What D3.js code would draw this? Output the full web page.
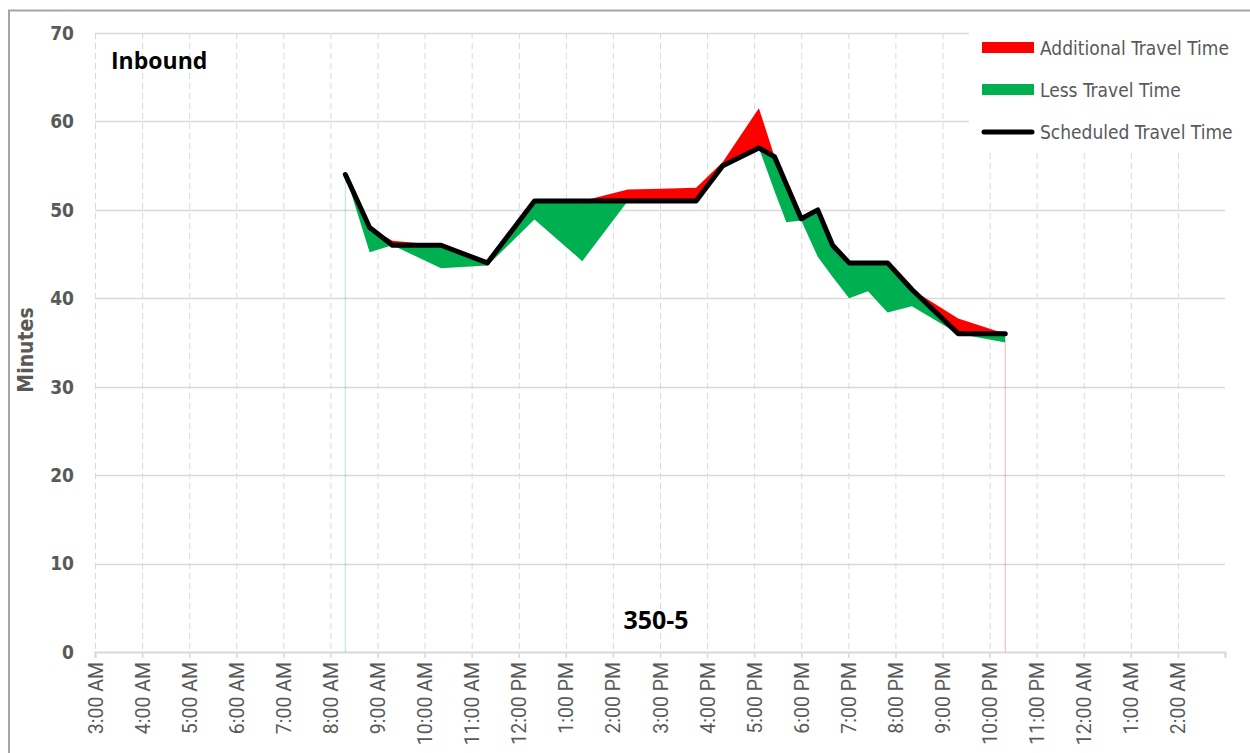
<!DOCTYPE html>
<html>
<head>
<meta charset="utf-8">
<script src="https://cdn.jsdelivr.net/npm/d3@7"></script>
<style>
  body { margin: 0; background: #fff; }
  svg { display: block; }
</style>
</head>
<body>
<div id="chart"></div>
<script>
/*
Scheduled vs actual travel time, route 350-5 inbound
*/

// trip start times
var tripTimes = ["8:19 AM", "8:50 AM", "9:19 AM", "10:21 AM", "11:20 AM", "12:20 PM",
    "1:21 PM", "2:19 PM", "3:02 PM", "3:46 PM", "4:20 PM", "5:06 PM", "5:26 PM",
    "5:41 PM", "6:00 PM", "6:21 PM", "6:40 PM", "7:01 PM", "7:25 PM", "7:50 PM",
    "8:21 PM", "9:20 PM", "10:20 PM"];

// minutes
var scheduled = [54, 48, 46, 46, 44, 51, 51, 51, 51, 51, 55, 57, 56, 52.9, 49, 50, 46, 44, 44, 44, 41, 36, 36];
var actual = [54, 45.2, 46.5, 43.4, 43.7, 48.9, 44.2, 52.3, 52.4, 52.5, 55.4, 61.5, 52.1, 48.6, 48.8, 44.7, 42.4, 40.0, 40.8, 38.4, 39.1, 37.7, 35.0];

var yTicks = [0, 10, 20, 30, 40, 50, 60, 70];
var seriesNames = ["Additional Travel Time", "Less Travel Time", "Scheduled Travel Time"];

var svgWidth = 1250,
    svgHeight = 753;

var margin = {left: 95, right: 25, top: 33, bottom: 101};

var width = svgWidth - margin.left - margin.right,
    height = svgHeight - margin.top - margin.bottom;

var narrow = "'Liberation Sans Narrow', 'Arial Narrow', 'DejaVu Sans Condensed', 'Roboto', sans-serif";
var grey = "#595959",
    gridColor = "#d9d9d9",
    red = "#ff0000",
    green = "#00b050";

var svg = d3.select("#chart")
    .append("svg")
        .attr("width", svgWidth)
        .attr("height", svgHeight);

// outer chart border (runs off the right/bottom edge)
svg.append("rect")
    .attr("x", 9)
    .attr("y", 10.5)
    .attr("width", 1260)
    .attr("height", 760)
    .attr("fill", "none")
    .attr("stroke", "#a6a6a6")
    .attr("stroke-width", 2);

var g = svg.append("g")
    .attr("transform", `translate(${margin.left}, ${margin.top})`);

// build rows
var parseTime = d3.timeParse("%I:%M %p");
var data = tripTimes.map((t, i) => {
    var s = scheduled[i], a = actual[i];
    return {
        time: parseTime(t),
        sched: s,
        more: Math.max(a - s, 0),
        less: Math.max(s - a, 0)
    };
});

var start = parseTime("3:00 AM");
var end = d3.timeHour.offset(start, 24);

var x = d3.scaleTime()
    .domain([start, end])
    .range([0, width]);

var y = d3.scaleLinear()
    .domain([0, 70])
    .range([height, 0]);

var hours = d3.timeHour.range(start, end);

// vertical dashed gridlines
g.append("g").selectAll("line")
    .data(hours)
    .enter().append("line")
        .attr("x1", d => x(d) + 0.5)
        .attr("x2", d => x(d) + 0.5)
        .attr("y1", 0)
        .attr("y2", height)
        .attr("stroke", gridColor)
        .attr("stroke-width", 1)
        .attr("stroke-dasharray", "6,4");

// horizontal gridlines
g.append("g").selectAll("line")
    .data(yTicks.filter(d => d > 0))
    .enter().append("line")
        .attr("x1", 0)
        .attr("x2", width)
        .attr("y1", d => Math.round(y(d)) + 0.5)
        .attr("y2", d => Math.round(y(d)) + 0.5)
        .attr("stroke", gridColor)
        .attr("stroke-width", 1.5);

// y tick labels
g.append("g").selectAll("text")
    .data(yTicks)
    .enter().append("text")
        .attr("x", -21)
        .attr("y", d => y(d))
        .attr("dy", "0.36em")
        .attr("text-anchor", "end")
        .attr("font-family", narrow)
        .attr("font-weight", "bold")
        .attr("font-size", "19px")
        .attr("fill", grey)
        .text(d => d);

// x axis
var xAxisCall = d3.axisBottom(x)
    .ticks(d3.timeHour.every(1))
    .tickSize(6)
    .tickFormat(d => d >= end ? "" : d3.timeFormat("%-I:%M %p")(d));

var xAxisGroup = g.append("g")
    .attr("transform", `translate(0, ${height})`)
    .call(xAxisCall);

xAxisGroup.select(".domain")
    .attr("stroke", gridColor)
    .attr("stroke-width", 2);
xAxisGroup.selectAll(".tick line")
    .attr("stroke", gridColor)
    .attr("stroke-width", 1.5);
xAxisGroup.selectAll(".tick text")
    .attr("transform", "rotate(-90)")
    .attr("text-anchor", "end")
    .attr("x", -10)
    .attr("y", 0)
    .attr("dy", "0.36em")
    .attr("font-family", "Roboto, sans-serif")
    .attr("font-size", "19.5px")
    .attr("fill", grey);

// thin edge lines left by the areas at the first/last trip
var first = data[0], last = data[data.length - 1];
g.append("line")
    .attr("x1", x(first.time)).attr("x2", x(first.time))
    .attr("y1", y(first.sched - first.less)).attr("y2", height)
    .attr("stroke", green).attr("stroke-opacity", 0.3).attr("stroke-width", 1);
g.append("line")
    .attr("x1", x(last.time)).attr("x2", x(last.time))
    .attr("y1", y(last.sched - last.less)).attr("y2", height)
    .attr("stroke", red).attr("stroke-opacity", 0.3).attr("stroke-width", 1);

// less travel time (below schedule)
var lessArea = d3.area()
    .x(d => x(d.time))
    .y0(d => y(d.sched - d.less))
    .y1(d => y(d.sched));

g.append("path")
    .datum(data)
    .attr("d", lessArea)
    .attr("fill", green);

// additional travel time (above schedule)
var moreArea = d3.area()
    .x(d => x(d.time))
    .y0(d => y(d.sched))
    .y1(d => y(d.sched + d.more));

g.append("path")
    .datum(data)
    .attr("d", moreArea)
    .attr("fill", red);

// scheduled line
var schedLine = d3.line()
    .x(d => x(d.time))
    .y(d => y(d.sched));

g.append("path")
    .datum(data)
    .attr("d", schedLine)
    .attr("fill", "none")
    .attr("stroke", "#000")
    .attr("stroke-width", 5)
    .attr("stroke-linejoin", "round")
    .attr("stroke-linecap", "round");

// y label
g.append("text")
    .attr("transform", "rotate(-90)")
    .attr("x", -317)
    .attr("y", -62)
    .attr("text-anchor", "middle")
    .attr("font-family", narrow)
    .attr("font-weight", "bold")
    .attr("font-size", "21px")
    .attr("fill", grey)
    .text("Minutes");

// titles
g.append("text")
    .attr("x", 16)
    .attr("y", 36)
    .attr("font-family", "'Open Sans', sans-serif")
    .attr("font-weight", "bold")
    .attr("font-size", "23px")
    .attr("fill", "#000")
    .text("Inbound");

g.append("text")
    .attr("x", width / 2 - 4)
    .attr("y", height - 23)
    .attr("text-anchor", "middle")
    .attr("font-family", "'Open Sans', sans-serif")
    .attr("font-weight", "bold")
    .attr("font-size", "25px")
    .attr("fill", "#000")
    .text("350-5");

// legend
var legend = svg.append("g")
    .attr("transform", "translate(969, 25)");

legend.append("rect")
    .attr("x", 0)
    .attr("y", 0)
    .attr("width", 290)
    .attr("height", 128)
    .attr("fill", "#fff");

var legendColors = [red, green, "#000"];
var legendItems = legend.selectAll(".item")
    .data(seriesNames)
    .enter().append("g")
        .attr("class", "item")
        .attr("transform", (d, i) => `translate(13, ${23 + i * 42})`);

legendItems.each(function(d, i){
    var item = d3.select(this);
    if (i < 2){
        item.append("rect")
            .attr("x", 0)
            .attr("y", -6)
            .attr("width", 52)
            .attr("height", 11)
            .attr("fill", legendColors[i]);
    }else{
        item.append("line")
            .attr("x1", 2)
            .attr("x2", 50)
            .attr("y1", 0)
            .attr("y2", 0)
            .attr("stroke", "#000")
            .attr("stroke-width", 5)
            .attr("stroke-linecap", "round");
    }
});

legendItems.append("text")
    .attr("x", 58)
    .attr("y", 0)
    .attr("dy", "0.35em")
    .attr("font-family", narrow)
    .attr("font-size", "19px")
    .attr("fill", grey)
    .text(d => d);
</script>
</body>
</html>
